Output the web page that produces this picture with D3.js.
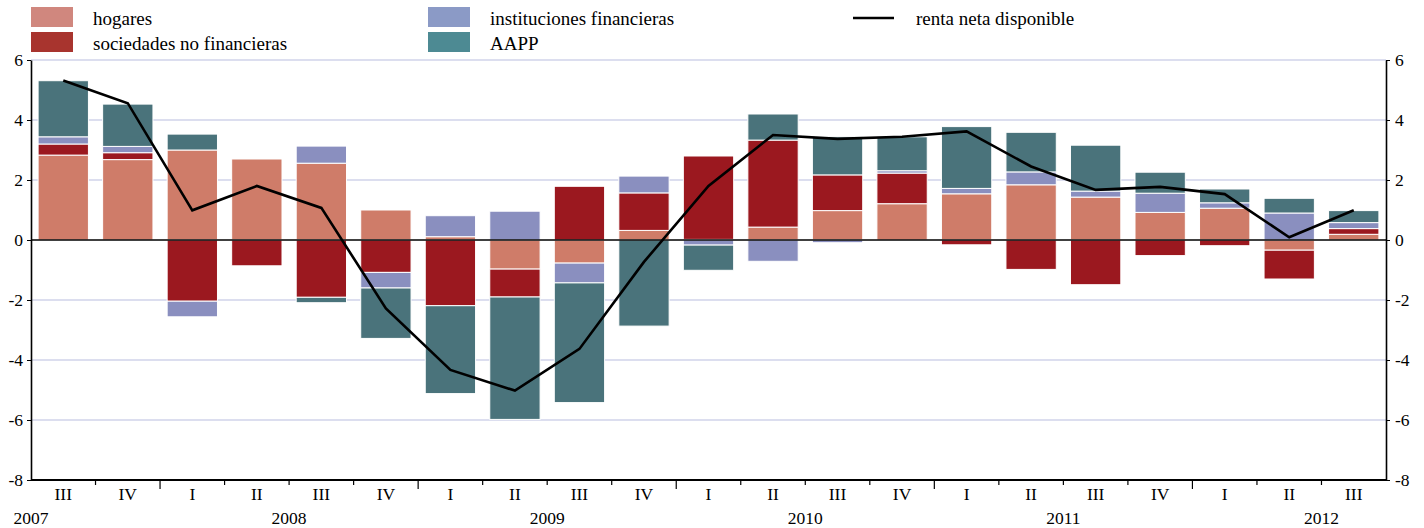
<!DOCTYPE html>
<html>
<head>
<meta charset="utf-8">
<script src="https://cdn.jsdelivr.net/npm/d3@7"></script>
<style>
  body { margin: 0; background: #fff; }
  svg { display: block; font-family: "Liberation Serif", "DejaVu Serif", serif; }
</style>
</head>
<body>
<svg width="1424" height="528"></svg>
<script>
const quarters = ["III", "IV", "I", "II", "III", "IV", "I", "II", "III", "IV", "I", "II", "III", "IV", "I", "II", "III", "IV", "I", "II", "III"];
const years = ["2007", "2007", "2008", "2008", "2008", "2008", "2009", "2009", "2009", "2009", "2010", "2010", "2010", "2010", "2011", "2011", "2011", "2011", "2012", "2012", "2012"];
const yearLabels = ["2007", "2008", "2009", "2010", "2011", "2012"];

const hogares = [2.83, 2.68, 3.0, 2.7, 2.56, 1.0, 0.11, -0.97, -0.77, 0.32, 0.02, 0.43, 0.98, 1.21, 1.54, 1.84, 1.43, 0.92, 1.06, -0.34, 0.19];
const sociedades = [0.37, 0.23, -2.04, -0.86, -1.91, -1.08, -2.19, -0.93, 1.79, 1.25, 2.78, 2.9, 1.19, 1.02, -0.16, -0.98, -1.49, -0.52, -0.19, -0.96, 0.19];
const instituciones = [0.24, 0.21, -0.52, 0, 0.57, -0.52, 0.7, 0.96, -0.66, 0.56, -0.17, -0.71, -0.09, 0.08, 0.18, 0.43, 0.2, 0.64, 0.18, 0.9, 0.2];
const aapp = [1.87, 1.41, 0.53, 0, -0.18, -1.68, -2.93, -4.08, -3.99, -2.87, -0.84, 0.87, 1.27, 1.13, 2.06, 1.32, 1.53, 0.7, 0.46, 0.49, 0.4];
const renta = [5.32, 4.56, 0.99, 1.8, 1.07, -2.28, -4.33, -5.02, -3.63, -0.73, 1.8, 3.5, 3.37, 3.44, 3.62, 2.45, 1.67, 1.77, 1.53, 0.09, 0.99];
const yTicks = [-8, -6, -4, -2, 0, 2, 4, 6];

const series = [
  { key: "hogares", values: hogares, fill: "#cf7c69", legend: "#d0877e" },
  { key: "sociedades no financieras", values: sociedades, fill: "#9b181f", legend: "#a8342e" },
  { key: "instituciones financieras", values: instituciones, fill: "#8a8fbf", legend: "#8b9ac6" },
  { key: "AAPP", values: aapp, fill: "#4a737b", legend: "#4d8a93" }
];

function draw() {
  const svg = d3.select("svg");
  const left = 31, right = 1386, top = 60, bottom = 480;

  const x = d3.scaleBand().domain(d3.range(quarters.length)).range([left, right]).paddingInner(0.22).paddingOuter(0.11);
  const y = d3.scaleLinear().domain([-8, 6]).range([bottom, top]);
  const step = x.step();
  const x0 = left;

  // grid
  svg.append("g").selectAll("line").data(yTicks.filter(d => d !== 0 && d !== -8)).join("line")
    .attr("x1", left).attr("x2", right)
    .attr("y1", d => y(d)).attr("y2", d => y(d))
    .attr("stroke", "#b9bde0").attr("stroke-width", 1.2);

  // stacked bars
  const table = quarters.map((q, i) => {
    const row = { i: i };
    series.forEach(s => row[s.key] = s.values[i]);
    return row;
  });
  const stack = d3.stack().keys(series.map(s => s.key)).offset(d3.stackOffsetDiverging);
  const layers = stack(table);

  svg.append("g").selectAll("g").data(layers).join("g")
    .attr("fill", (d, i) => series[i].fill)
    .selectAll("rect").data(d => d).join("rect")
    .attr("x", d => x(d.data.i))
    .attr("width", x.bandwidth())
    .attr("y", d => y(Math.max(d[0], d[1])))
    .attr("height", d => Math.abs(y(d[0]) - y(d[1])))
    .attr("stroke", "#fff").attr("stroke-width", 1);

  // zero line
  svg.append("line")
    .attr("x1", left).attr("x2", right)
    .attr("y1", y(0)).attr("y2", y(0))
    .attr("stroke", "#000").attr("stroke-width", 1.6);

  // renta line
  const line = d3.line().x((d, i) => x(i) + x.bandwidth() / 2).y(d => y(d));
  svg.append("path").datum(renta)
    .attr("d", line)
    .attr("fill", "none").attr("stroke", "#000").attr("stroke-width", 2.6);

  // y axes
  const yl = svg.append("g").attr("transform", `translate(${left},0)`)
    .call(d3.axisLeft(y).tickValues(yTicks).tickFormat(d => String(d)).tickSize(4).tickSizeOuter(0));
  const yr = svg.append("g").attr("transform", `translate(${right},0)`)
    .call(d3.axisRight(y).tickValues(yTicks).tickFormat(d => String(d)).tickSize(4).tickSizeOuter(0));
  [yl, yr].forEach(g => {
    g.attr("font-family", null).attr("font-size", null);
    g.select(".domain").attr("stroke", "#000").attr("stroke-width", 1.6);
    g.selectAll(".tick line").attr("stroke", "#000");
    g.selectAll(".tick text").attr("font-size", 17.5).attr("fill", "#000");
  });
  yl.selectAll(".tick text").attr("x", -8);
  yr.selectAll(".tick text").attr("x", 9);

  // x axis
  const xa = svg.append("g").attr("font-size", 17.5);
  xa.append("line").attr("x1", left).attr("x2", right).attr("y1", bottom).attr("y2", bottom)
    .attr("stroke", "#000").attr("stroke-width", 2);
  xa.selectAll("line.tk").data(d3.range(1, quarters.length)).join("line")
    .attr("class", "tk")
    .attr("x1", i => x0 + i * step).attr("x2", i => x0 + i * step)
    .attr("y1", bottom)
    .attr("y2", i => bottom + (quarters[i] === "I" ? 9 : 5))
    .attr("stroke", "#000").attr("stroke-width", 1.2);
  xa.selectAll("text.q").data(quarters).join("text")
    .attr("class", "q")
    .attr("x", (d, i) => x(i) + x.bandwidth() / 2)
    .attr("y", 500)
    .attr("text-anchor", "middle").text(d => d);

  // year labels centred on the full year span
  const qIndex = { "I": 0, "II": 1, "III": 2, "IV": 3 };
  const yearPos = yearLabels.map(yr => {
    const i = years.indexOf(yr);
    const start = x0 + (i - qIndex[quarters[i]]) * step;
    return { yr: yr, cx: start + 2 * step };
  });
  xa.selectAll("text.y").data(yearPos).join("text")
    .attr("class", "y")
    .attr("x", d => d.cx).attr("y", 524)
    .attr("text-anchor", "middle").text(d => d.yr);

  // legend
  const leg = svg.append("g").attr("font-size", 19);
  const legPos = [[31, 7], [31, 32], [428, 7], [428, 32]];
  series.forEach((s, i) => {
    const [lx, ly] = legPos[i];
    leg.append("rect").attr("x", lx).attr("y", ly).attr("width", 42).attr("height", 20).attr("fill", s.legend);
    leg.append("text").attr("x", lx + 62).attr("y", ly + 18).text(s.key);
  });
  leg.append("line").attr("x1", 853).attr("x2", 894).attr("y1", 18).attr("y2", 18)
    .attr("stroke", "#000").attr("stroke-width", 2.6);
  leg.append("text").attr("x", 916).attr("y", 25).text("renta neta disponible");
}

window.onload = draw;
</script>
</body>
</html>
